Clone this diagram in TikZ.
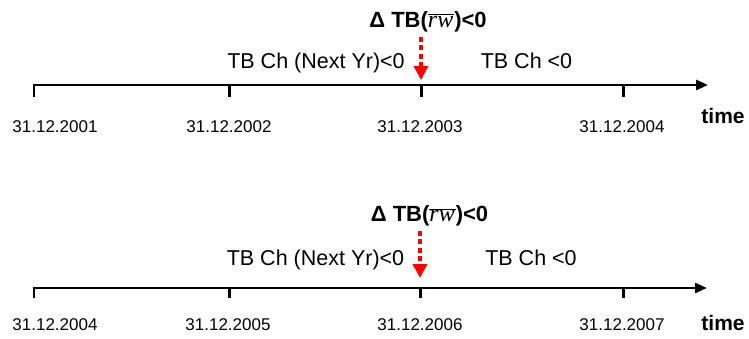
\documentclass[tikz,border=0pt]{standalone}
\usepackage{fontspec}
\setmainfont{Liberation Sans}
\newfontfamily\varfont{Liberation Serif}
\usetikzlibrary{arrows.meta}
% overlined italic variable name, set upright-weight
\newcommand{\ovvar}[1]{$\overline{\hbox{\varfont\mdseries\itshape\fontsize{24}{26}\selectfont #1\kern1pt}}$}
\begin{document}
\begin{tikzpicture}[x=1pt,y=-1pt,
  axisline/.style={line width=2.8pt, line join=miter,
    -{Triangle[length=12pt,width=10pt]}},
  tickmark/.style={line width=3pt},
  eventarrow/.style={red, line width=4.6pt, dash pattern=on 5pt off 3.3pt,
    -{Triangle[length=14pt,width=14pt]}},
  datelabel/.style={anchor=base, inner sep=0pt, font=\fontsize{17}{20}\selectfont},
  phaselabel/.style={anchor=base, inner sep=0pt, font=\fontsize{21.5}{25}\selectfont},
  eventlabel/.style={anchor=base, inner sep=0pt, font=\fontsize{22}{26}\selectfont\bfseries},
  timelabel/.style={anchor=base, inner sep=0pt, font=\fontsize{21}{25}\selectfont\bfseries}]
\useasboundingbox (0,0) rectangle (749,338);

% ---------- first time line: 2001 -- 2004 ----------
\coordinate (a1) at (34,85);   \coordinate (a1d) at (34,97);
\coordinate (a2) at (229,85);  \coordinate (a2d) at (229,97);
\coordinate (a3) at (421,85);  \coordinate (a3d) at (421,97);
\coordinate (a4) at (623,85);  \coordinate (a4d) at (623,97);
\coordinate (aend) at (708,85);
\draw[axisline] (a1d) -- (a1) -- (aend);
\draw[tickmark] (a2) -- (a2d);
\draw[tickmark] (a3) -- (a3d);
\draw[tickmark] (a4) -- (a4d);
\node[datelabel] (da1) at (55,132.3) {31.12.2001};
\node[datelabel] (da2) at (229,132.3) {31.12.2002};
\node[datelabel] (da3) at (420,132.3) {31.12.2003};
\node[datelabel] (da4) at (622,132.3) {31.12.2004};
\node[timelabel] (ta) at (723,123.3) {time};
\node[phaselabel] (pa1) at (316,68.3) {TB Ch (Next Yr)<0};
\node[phaselabel] (pa2) at (526.5,68.3) {TB Ch <0};
\node[eventlabel] (ea) at (428,27) {Δ TB(\ovvar{rw})<0};
\coordinate (eas) at (421,37);
\coordinate (eat) at (421,80);
\draw[eventarrow] (eas) -- (eat);

% ---------- second time line: 2004 -- 2007 ----------
\coordinate (b1) at (34,288);   \coordinate (b1d) at (34,298);
\coordinate (b2) at (229,288);  \coordinate (b2d) at (229,298);
\coordinate (b3) at (420,288);  \coordinate (b3d) at (420,298);
\coordinate (b4) at (623,288);  \coordinate (b4d) at (623,298);
\coordinate (bend) at (707,288);
\draw[axisline] (b1d) -- (b1) -- (bend);
\draw[tickmark] (b2) -- (b2d);
\draw[tickmark] (b3) -- (b3d);
\draw[tickmark] (b4) -- (b4d);
\node[datelabel] (db1) at (55,330.5) {31.12.2004};
\node[datelabel] (db2) at (228,330.5) {31.12.2005};
\node[datelabel] (db3) at (420,330.5) {31.12.2006};
\node[datelabel] (db4) at (622,330.5) {31.12.2007};
\node[timelabel] (tb) at (723,330) {time};
\node[phaselabel] (pb1) at (315.5,265) {TB Ch (Next Yr)<0};
\node[phaselabel] (pb2) at (531,265) {TB Ch <0};
\node[eventlabel] (eb) at (429.5,221.7) {Δ TB(\ovvar{rw})<0};
\coordinate (ebs) at (420,231);
\coordinate (ebt) at (420,278);
\draw[eventarrow] (ebs) -- (ebt);
\end{tikzpicture}
\end{document}
